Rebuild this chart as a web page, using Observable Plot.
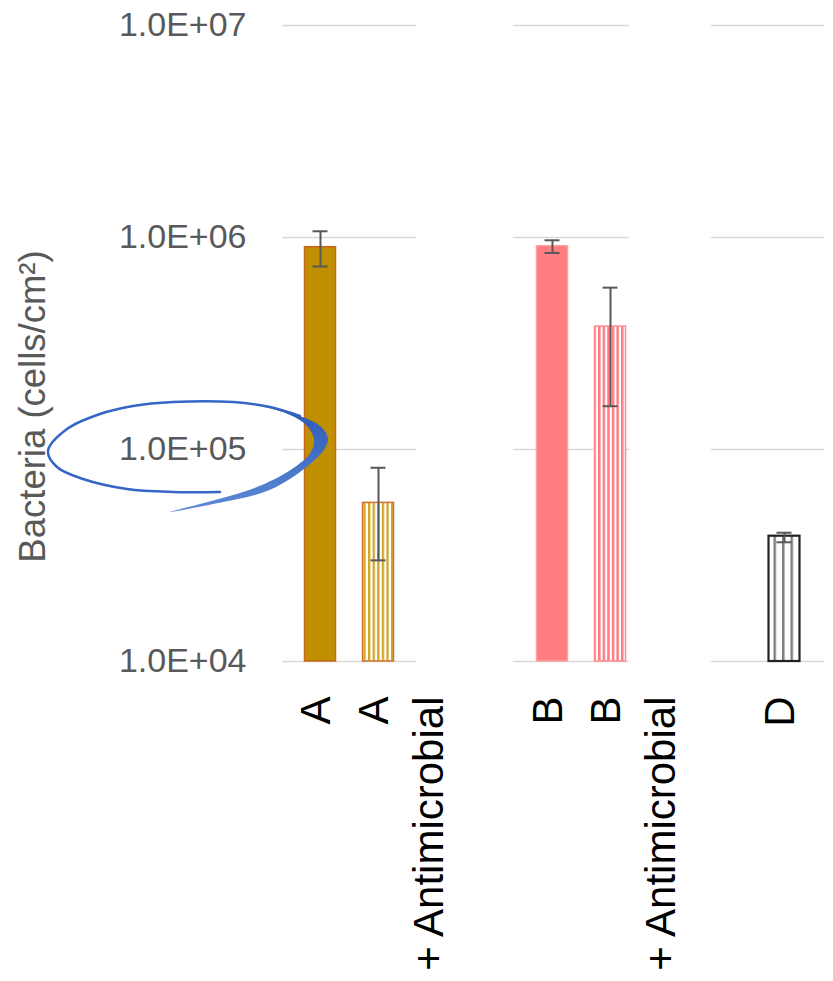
<!DOCTYPE html>
<html><head><meta charset="utf-8">
<script src="https://cdn.jsdelivr.net/npm/d3@7"></script>
<script src="https://cdn.jsdelivr.net/npm/@observablehq/plot@0.6"></script>
<style>html,body{margin:0;padding:0;background:#fff;overflow:hidden}</style>
</head><body><div id="chart"></div>
<script>
// ---- data ----
const categories = ["A", "A + Antimicrobial", "B", "B + Antimicrobial", "D"];
const means   = [9.0e5, 5.6e4, 9.1e5, 3.8e5, 3.9e4];
const errLow  = [7.3e5, 3.0e4, 8.45e5, 1.6e5, 3.65e4];
const errHigh = [1.07e6, 8.2e4, 9.7e5, 5.8e5, 4.05e4];
const xLabels = ["A", "A\n+ Antimicrobial", "B", "B\n+ Antimicrobial", "D"];
const yTicks = [1e4, 1e5, 1e6, 1e7];
const yTickLabels = ["1.0E+04", "1.0E+05", "1.0E+06", "1.0E+07"];
const slots = ["A", "A + Antimicrobial", "gap1", "gap2", "B", "B + Antimicrobial", "gap3", "gap4", "D"];
const gridGroups = [["A", "A + Antimicrobial"], ["B", "B + Antimicrobial"], ["D", "D"]];
const yTitle = "Bacteria (cells/cm²)";

// ---- styles ----
const fillByCat = {"A": "#bf8f00", "A + Antimicrobial": "url(#hatchA)", "B": "#ff7c80", "B + Antimicrobial": "url(#hatchB)", "D": "url(#hatchD)"};
const strokeByCat = {"A": "#c9651d", "A + Antimicrobial": "#d5702b", "B": "#ff9ea1", "B + Antimicrobial": "#ff8a8e", "D": "#222222"};
const strokeWByCat = {"A": 1.5, "A + Antimicrobial": 1.5, "B": 1.5, "B + Antimicrobial": 1.5, "D": 2.2};
const gridInsets = [[-9, -9], [-10, 10], [-44, -11]];
const font = "Liberation Sans, Arial, sans-serif";

const rows = categories.map((c, i) => ({cat: c, mean: means[i], lo: errLow[i], hi: errHigh[i], label: xLabels[i]}));

const defsMark = () => {
  const defs = d3.create("svg:defs");
  function hatch(id, period, lineW, color) {
    const p = defs.append("pattern").attr("id", id).attr("patternUnits", "userSpaceOnUse")
      .attr("width", period).attr("height", 10);
    p.append("rect").attr("width", period).attr("height", 10).attr("fill", "#ffffff");
    p.append("rect").attr("width", lineW).attr("height", 10).attr("fill", color);
  }
  hatch("hatchA", 4.6, 2.3, "#cfa524");
  hatch("hatchB", 4.6, 2.5, "#ff7c80");
  hatch("hatchD", 8.5, 2.5, "#7f7f7f");
  const gr = defs.append("linearGradient").attr("id", "swooshGrad")
    .attr("x1", 0).attr("y1", 0).attr("x2", 0).attr("y2", 1);
  gr.append("stop").attr("offset", "0%").attr("stop-color", "#2a56b2");
  gr.append("stop").attr("offset", "100%").attr("stop-color", "#5d8bd8");
  return defs.node();
};

const swoosh = (index, scales) => {
  const cy = scales.y(yTicks[1]);
  const g = d3.create("svg:g");
  const line = d3.line().curve(d3.curveCatmullRom);
  const P = (pts) => pts.map(([x, dy]) => [x, cy + dy]);
  const thin = [[300,-33],[270,-42],[233,-47],[173,-47],[133,-43],[100,-35],[67,-20],[48,2],[57,18],[83,30],[127,40],[173,43],[220,43]];
  g.append("path").attr("d", line(P(thin))).attr("fill", "none")
    .attr("stroke", "#3566c6").attr("stroke-width", 2.5).attr("stroke-linecap", "round");
  const outer = [[233,-47],[287,-37],[320,-23],[328,-10],[323,2],[300,23],[267,42],[213,55],[170,63]];
  const inner = [[215,51],[262,36],[295,18],[311,3],[314,-10],[305,-25],[280,-38],[233,-47]];
  g.append("path").attr("d", line(P(outer.concat(inner))) + "Z").attr("fill", "url(#swooshGrad)");
  return g.node();
};

const plot = Plot.plot({
  width: 833,
  height: 981,
  marginLeft: 291,
  marginRight: 20,
  marginTop: 25,
  marginBottom: 320,
  style: {fontFamily: font, fontSize: "34px", color: "#595959", background: "#fff"},
  x: {domain: slots, padding: 0, axis: null},
  y: {type: "log", domain: [yTicks[0], yTicks[3]], ticks: yTicks,
      tickFormat: (d) => yTickLabels[yTicks.indexOf(d)] ?? "", tickSize: 0, tickPadding: 45, label: null},
  color: {type: "identity"},
  marks: [
    defsMark,
    ...gridGroups.map((g, i) => Plot.ruleY(yTicks, {
      y: (d) => d, x1: () => g[0], x2: () => g[1],
      stroke: "#d9d9d9", strokeWidth: 1.6,
      insetLeft: gridInsets[i][0], insetRight: gridInsets[i][1]
    })),
    ...rows.map((r) => Plot.barY([r], {
      x: "cat", y1: yTicks[0], y2: "mean",
      fill: (d) => fillByCat[d.cat], stroke: (d) => strokeByCat[d.cat],
      strokeWidth: strokeWByCat[r.cat], insetLeft: 13.5, insetRight: 13.5
    })),
    Plot.ruleX(rows, {x: "cat", y1: "lo", y2: "hi", stroke: "#595959", strokeWidth: 2}),
    Plot.tickY(rows, {x: "cat", y: "hi", stroke: "#595959", strokeWidth: 2, insetLeft: 21.5, insetRight: 21.5}),
    Plot.tickY(rows, {x: "cat", y: "lo", stroke: "#595959", strokeWidth: 2, insetLeft: 21.5, insetRight: 21.5}),
    Plot.text(rows, {
      x: "cat", y: () => yTicks[0], text: "label", rotate: -90,
      textAnchor: "end", lineAnchor: "top", lineHeight: 1.31,
      fontSize: 42, fill: "#000000", dx: -30, dy: 35, fontFamily: font
    }),
    Plot.text([yTitle], {
      frameAnchor: "left", text: (d) => d, rotate: -90, textAnchor: "middle",
      lineAnchor: "bottom", dx: -247, dy: 63, fontSize: 36.5, fill: "#595959", fontFamily: font
    }),
    swoosh
  ]
});
document.getElementById("chart").appendChild(plot);
</script>
</body></html>
